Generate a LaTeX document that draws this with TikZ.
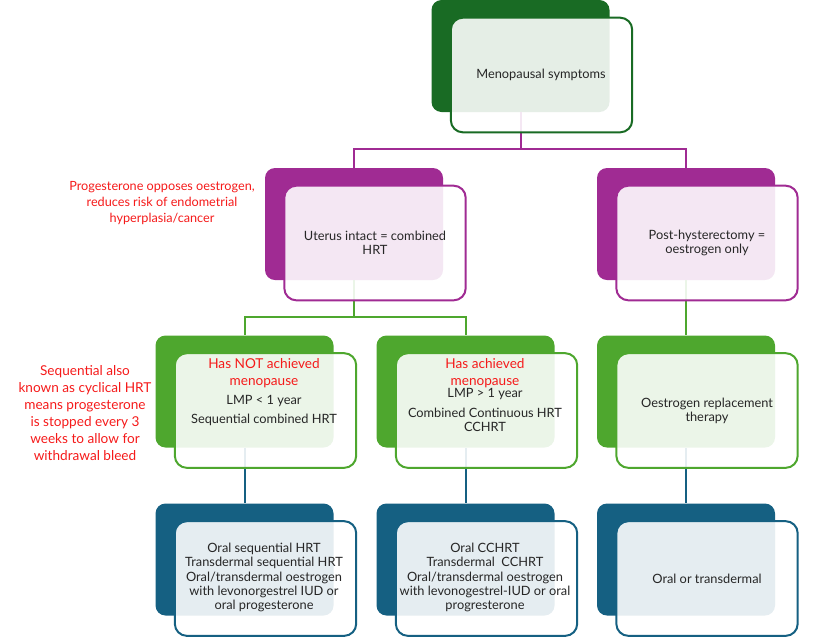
\documentclass[tikz,border=0pt]{standalone}
\usepackage{fontspec}
\setmainfont{Lato}
\usetikzlibrary{positioning}
\definecolor{topgreen}{HTML}{196B24}
\definecolor{hrtpurple}{HTML}{A02B93}
\definecolor{hrtgreen}{HTML}{4EA72E}
\definecolor{hrtblue}{HTML}{156082}
\definecolor{inktext}{HTML}{262626}
\definecolor{notered}{HTML}{F51A1A}
\tikzset{
  backbox/.style={rounded corners=7.5pt, minimum width=133.5pt, minimum height=84pt, fill=#1},
  frontbox/.style={draw=#1, line width=1.5pt, rounded corners=9pt, minimum width=136pt, minimum height=86pt, fill=white, fill opacity=0.89},
  link/.style={draw=#1, line width=1.5pt},
  boxtext/.style={align=center, text=inktext, font=\fontsize{9.6}{10.7}\selectfont},
  redhead/.style={align=center, text=notered, font=\fontsize{10.2}{12.75}\selectfont},
}
\begin{document}
\begin{tikzpicture}[x=0.75pt, y=-0.75pt]
  \useasboundingbox (0,0) rectangle (837,636);

  % dark boxes behind
  \node[backbox=topgreen] (b1) at (520.5,56) {};
  \node[backbox=hrtpurple] (b21) at (354,224) {};
  \node[backbox=hrtpurple] (b22) at (686,224) {};
  \node[backbox=hrtgreen] (b31) at (244.5,391.5) {};
  \node[backbox=hrtgreen] (b32) at (465.5,391.5) {};
  \node[backbox=hrtgreen] (b33) at (686,391.5) {};
  \node[backbox=hrtblue] (b41) at (244.5,559.5) {};
  \node[backbox=hrtblue] (b42) at (465.5,559.5) {};
  \node[backbox=hrtblue] (b43) at (686,559.5) {};

  % connectors
  \draw[link=hrtpurple] (b1.south) -- ++(0,37) coordinate (j1);
  \draw[link=hrtpurple] (j1) -| (b21.north);
  \draw[link=hrtpurple] (j1) -| (b22.north);
  \draw[link=hrtgreen] (b21.south) -- ++(0,37) coordinate (j2);
  \draw[link=hrtgreen] (j2) -| (b31.north);
  \draw[link=hrtgreen] (j2) -| (b32.north);
  \draw[link=hrtgreen] (b22.south) -- (b33.north);
  \draw[link=hrtblue] (b31.south) -- (b41.north);
  \draw[link=hrtblue] (b32.south) -- (b42.north);
  \draw[link=hrtblue] (b33.south) -- (b43.north);

  % light boxes in front
  \node[frontbox=topgreen] (f1) at ([shift={(21,19)}]b1.center) {};
  \node[frontbox=hrtpurple] (f21) at ([shift={(21,19)}]b21.center) {};
  \node[frontbox=hrtpurple] (f22) at ([shift={(21,19)}]b22.center) {};
  \node[frontbox=hrtgreen] (f31) at ([shift={(21,19)}]b31.center) {};
  \node[frontbox=hrtgreen] (f32) at ([shift={(21,19)}]b32.center) {};
  \node[frontbox=hrtgreen] (f33) at ([shift={(21,19)}]b33.center) {};
  \node[frontbox=hrtblue] (f41) at ([shift={(21,19)}]b41.center) {};
  \node[frontbox=hrtblue] (f42) at ([shift={(21,19)}]b42.center) {};
  \node[frontbox=hrtblue] (f43) at ([shift={(21,19)}]b43.center) {};

  % box texts
  \node[boxtext] (t1) at (541,75) {Menopausal symptoms};
  \node[boxtext] (t21) at (375,243) {Uterus intact = combined\\HRT};
  \node[boxtext] (t22) at (707,243) {Post-hysterectomy =\\oestrogen only};
  \node[redhead] (h31) at (264,373.5) {Has NOT achieved\\menopause};
  \node[boxtext] (t31) at (264,410.5) {LMP < 1 year\\[3.5pt]Sequential combined HRT};
  \node[redhead] (h32) at (485,373.5) {Has achieved\\menopause};
  \node[boxtext] (t32) at (485,410) {LMP > 1 year\\[4.3pt]Combined Continuous HRT\\CCHRT};
  \node[boxtext] (t33) at (707,411) {Oestrogen replacement\\therapy};
  \node[boxtext] (t41) at (264,577.5) {Oral sequential HRT\\Transdermal sequential HRT\\Oral/transdermal oestrogen\\with levonorgestrel IUD or\\oral progesterone};
  \node[boxtext] (t42) at (485,577.5) {Oral CCHRT\\Transdermal\ \ CCHRT\\Oral/transdermal oestrogen\\with levonogestrel-IUD or oral\\progresterone};
  \node[boxtext] (t43) at (707,579) {Oral or transdermal};

  % side notes
  \node[redhead, font=\fontsize{9.5}{12}\selectfont] (noteprog) at (162,203) {Progesterone opposes oestrogen,\\reduces risk of endometrial\\hyperplasia/cancer};
  \node[redhead] (noteseq) at (85,413.5) {Sequential also\\known as cyclical HRT\\means progesterone\\is stopped every 3\\weeks to allow for\\withdrawal bleed};
\end{tikzpicture}
\end{document}
